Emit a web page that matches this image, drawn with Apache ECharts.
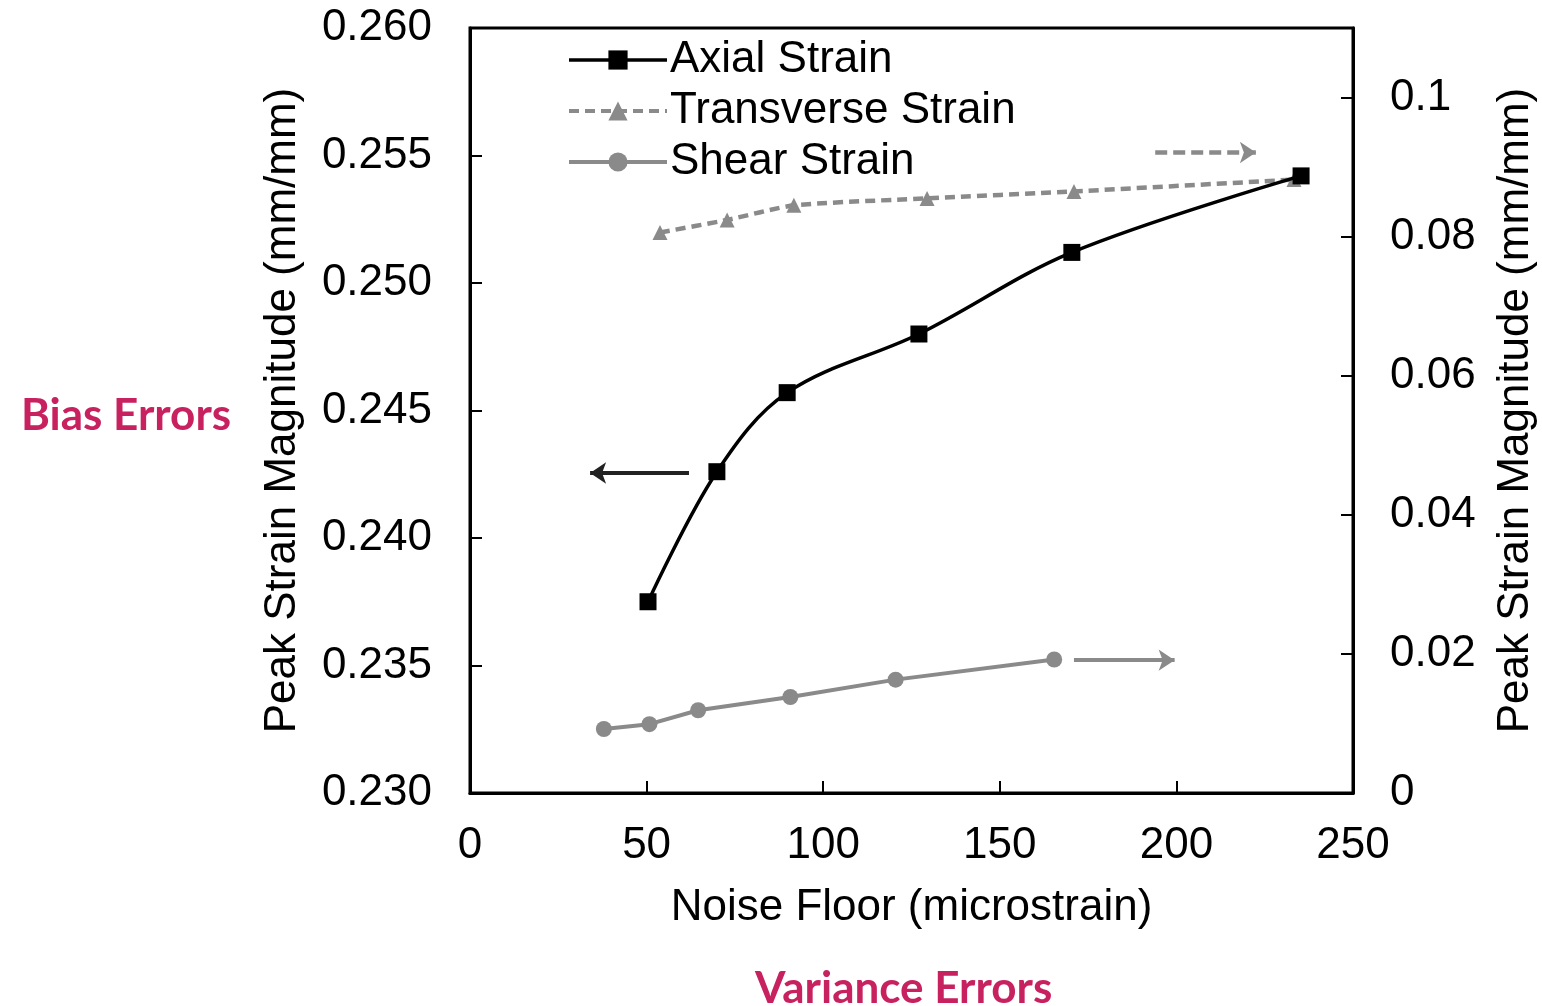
<!DOCTYPE html>
<html>
<head>
<meta charset="utf-8">
<script src="https://cdn.jsdelivr.net/npm/echarts@6/dist/echarts.min.js"></script>
<style>html,body{margin:0;padding:0;background:#fff;}#c{width:1542px;height:1006px;}</style>
</head>
<body>
<div id="c"></div>
<script>
// Axial strain (left axis)
const axialX = [50.4, 69.9, 89.8, 127.1, 170.4, 235.3];
const axialY = [0.2375, 0.2426, 0.2457, 0.2480, 0.2512, 0.2542];
// Transverse strain (right axis)
const transX = [53.8, 72.8, 91.7, 129.4, 171.0, 233.3];
const transY = [0.0806, 0.0824, 0.0845, 0.0855, 0.0865, 0.0882];
// Shear strain (right axis)
const shearX = [37.9, 50.8, 64.6, 90.7, 120.5, 165.4];
const shearY = [0.0092, 0.0099, 0.0119, 0.0138, 0.0163, 0.0192];
// Arrow annotations [xStart, xEnd, y]
const axialArrow = [62, 34, 0.24255];
const transArrow = [194, 222.5, 0.0921];
const shearArrow = [171, 199.5, 0.0191];

const xTicks = {min: 0, max: 250, interval: 50};
const leftTicks = {min: 0.23, max: 0.26, interval: 0.005};
const rightTicks = {min: 0, max: 0.11, interval: 0.02};

const FONT = '"Liberation Sans", Arial, sans-serif';
const FS = 44;
const GRAY = '#8a8a8a';

function pairs(xs, ys){ return xs.map((x,i)=>[x, ys[i]]); }
function arrowLine(a, color, type, width){
  return {
    silent: true, symbol: ['none','arrow'], symbolSize: [16, 16],
    label: {show: false},
    lineStyle: {color: color, type: type, width: width},
    data: [[{coord: [a[0], a[2]]}, {coord: [a[1], a[2]]}]]
  };
}

const chart = echarts.init(document.getElementById('c'));
chart.setOption({
  animation: false,
  backgroundColor: '#fff',
  grid: {left: 470, right: 189, top: 28, bottom: 213, show: true, borderColor: '#000', borderWidth: 3,
         containLabel: false, outerBoundsMode: 'none'},
  title: [
    {text: 'Bias Errors', left: 16, top: 389, textStyle: {fontFamily: 'Lato, "Open Sans", sans-serif', fontWeight: 'bold', fontSize: 44, color: '#C8215F'}},
    {text: 'Variance Errors', left: 750, top: 962, textStyle: {fontFamily: 'Lato, "Open Sans", sans-serif', fontWeight: 'bold', fontSize: 44, color: '#C8215F'}}
  ],
  legend: {
    left: 562, top: 33, orient: 'vertical', itemGap: 7, itemWidth: 98, itemHeight: 24,
    textStyle: {fontFamily: FONT, fontSize: FS, color: '#000', padding: [0,0,0,-2]},
    data: [
      {name: 'Axial Strain', lineStyle: {width: 3.5, color: '#000'}},
      {name: 'Transverse Strain', lineStyle: {width: 4, color: GRAY, type: [10, 6]}},
      {name: 'Shear Strain', lineStyle: {width: 4, color: GRAY}}
    ]
  },
  xAxis: {
    type: 'value', min: xTicks.min, max: xTicks.max, interval: xTicks.interval,
    name: 'Noise Floor (microstrain)', nameLocation: 'middle', nameGap: 93,
    nameTextStyle: {fontFamily: FONT, fontSize: FS, color: '#000'},
    axisLine: {show: true, lineStyle: {color: '#000', width: 3}},
    axisTick: {show: true, inside: true, length: 12, lineStyle: {color: '#000', width: 2}},
    axisLabel: {fontFamily: FONT, fontSize: FS, color: '#000', margin: 31},
    splitLine: {show: false}
  },
  yAxis: [
    {
      type: 'value', position: 'left', min: leftTicks.min, max: leftTicks.max, interval: leftTicks.interval,
      name: 'Peak Strain Magnitude (mm/mm)', nameLocation: 'middle', nameGap: 165,
      nameTextStyle: {fontFamily: FONT, fontSize: FS, color: '#000'},
      axisLine: {show: true, lineStyle: {color: '#000', width: 3}},
      axisTick: {show: true, inside: true, length: 12, lineStyle: {color: '#000', width: 2}},
      axisLabel: {fontFamily: FONT, fontSize: FS, color: '#000', margin: 38, formatter: v => v.toFixed(3)},
      splitLine: {show: false}
    },
    {
      type: 'value', position: 'right', min: rightTicks.min, max: rightTicks.max, interval: rightTicks.interval,
      name: 'Peak Strain Magnitude (mm/mm)', nameLocation: 'middle', nameGap: 141, nameRotate: 90,
      nameTextStyle: {fontFamily: FONT, fontSize: FS, color: '#000'},
      axisLine: {show: true, lineStyle: {color: '#000', width: 3}},
      axisTick: {show: true, inside: true, length: 12, lineStyle: {color: '#000', width: 2}},
      axisLabel: {fontFamily: FONT, fontSize: FS, color: '#000', margin: 37, showMaxLabel: false,
        formatter: v => (Math.abs(v/0.02 - Math.round(v/0.02)) < 1e-6 ? String(+v.toFixed(2)) : '')},
      splitLine: {show: false}
    }
  ],
  series: [
    {
      name: 'Axial Strain', type: 'line', yAxisIndex: 0, data: pairs(axialX, axialY),
      smooth: 0.35, symbol: 'rect', symbolSize: 17,
      lineStyle: {color: '#000', width: 3.5}, itemStyle: {color: '#000'},
      markLine: arrowLine(axialArrow, '#222', 'solid', 4), z: 5
    },
    {
      name: 'Transverse Strain', type: 'line', yAxisIndex: 1, data: pairs(transX, transY),
      smooth: 0.2, symbol: 'triangle', symbolSize: 15,
      lineStyle: {color: GRAY, width: 4.5, type: [10, 6]}, itemStyle: {color: GRAY},
      markLine: arrowLine(transArrow, GRAY, [12, 6], 4.5)
    },
    {
      name: 'Shear Strain', type: 'line', yAxisIndex: 1, data: pairs(shearX, shearY),
      smooth: false, symbol: 'circle', symbolSize: 16,
      lineStyle: {color: GRAY, width: 4}, itemStyle: {color: GRAY},
      markLine: arrowLine(shearArrow, GRAY, 'solid', 4)
    }
  ]
});
</script>
</body>
</html>
